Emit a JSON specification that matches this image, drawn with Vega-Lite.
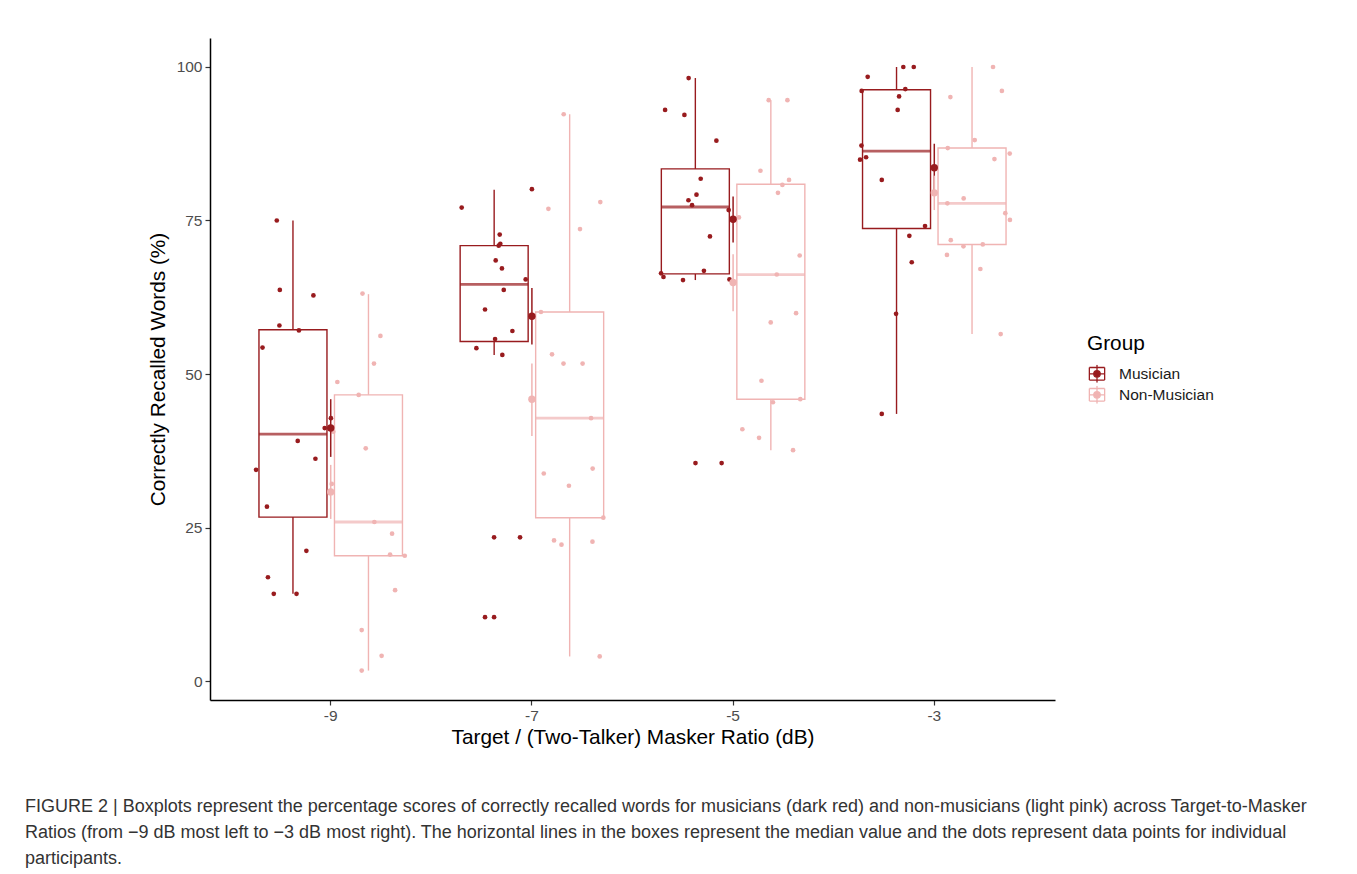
{
  "$schema": "https://vega.github.io/schema/vega-lite/v6.json",
  "width": 845,
  "height": 662,
  "autosize": {"type": "none"},
  "padding": {"left": 210, "top": 38, "right": 302, "bottom": 174},
  "background": "white",
  "config": {
    "font": "Liberation Sans",
    "view": {"stroke": null},
    "axis": {
      "domainColor": "black",
      "domainWidth": 1.5,
      "tickColor": "#333333",
      "tickWidth": 1.2,
      "tickSize": 5,
      "labelColor": "#4D4D4D",
      "labelFontSize": 15.5,
      "labelFont": "Liberation Sans",
      "titleFont": "Liberation Sans",
      "titleFontSize": 20.8,
      "titleFontWeight": "normal",
      "titleColor": "black",
      "grid": false
    }
  },
  "title": {
    "text": [
      "FIGURE 2 | Boxplots represent the percentage scores of correctly recalled words for musicians (dark red) and non-musicians (light pink) across Target-to-Masker",
      "Ratios (from −9 dB most left to −3 dB most right). The horizontal lines in the boxes represent the median value and the dots represent data points for individual",
      "participants."
    ],
    "orient": "bottom",
    "anchor": "start",
    "frame": "group",
    "dx": -185,
    "offset": 51,
    "font": "Liberation Sans",
    "fontSize": 18,
    "fontWeight": "normal",
    "color": "#333333",
    "lineHeight": 26
  },
  "datasets": {
    "points": [
      {"tmr": -9, "group": "Musician", "score": 75.0, "jit": -0.268},
      {"tmr": -9, "group": "Musician", "score": 63.7, "jit": -0.253},
      {"tmr": -9, "group": "Musician", "score": 62.8, "jit": -0.086},
      {"tmr": -9, "group": "Musician", "score": 57.9, "jit": -0.255},
      {"tmr": -9, "group": "Musician", "score": 57.1, "jit": -0.158},
      {"tmr": -9, "group": "Musician", "score": 54.3, "jit": -0.339},
      {"tmr": -9, "group": "Musician", "score": 42.8, "jit": 0.001},
      {"tmr": -9, "group": "Musician", "score": 41.2, "jit": -0.030},
      {"tmr": -9, "group": "Musician", "score": 39.1, "jit": -0.164},
      {"tmr": -9, "group": "Musician", "score": 36.2, "jit": -0.076},
      {"tmr": -9, "group": "Musician", "score": 34.4, "jit": -0.371},
      {"tmr": -9, "group": "Musician", "score": 28.4, "jit": -0.317},
      {"tmr": -9, "group": "Musician", "score": 21.2, "jit": -0.121},
      {"tmr": -9, "group": "Musician", "score": 16.9, "jit": -0.312},
      {"tmr": -9, "group": "Musician", "score": 14.2, "jit": -0.283},
      {"tmr": -9, "group": "Musician", "score": 14.2, "jit": -0.170},
      {"tmr": -7, "group": "Musician", "score": 80.1, "jit": 0.000},
      {"tmr": -7, "group": "Musician", "score": 77.1, "jit": -0.349},
      {"tmr": -7, "group": "Musician", "score": 72.7, "jit": -0.160},
      {"tmr": -7, "group": "Musician", "score": 71.2, "jit": -0.157},
      {"tmr": -7, "group": "Musician", "score": 70.9, "jit": -0.165},
      {"tmr": -7, "group": "Musician", "score": 68.5, "jit": -0.180},
      {"tmr": -7, "group": "Musician", "score": 67.2, "jit": -0.149},
      {"tmr": -7, "group": "Musician", "score": 65.4, "jit": -0.031},
      {"tmr": -7, "group": "Musician", "score": 63.7, "jit": -0.140},
      {"tmr": -7, "group": "Musician", "score": 60.5, "jit": -0.233},
      {"tmr": -7, "group": "Musician", "score": 57.0, "jit": -0.097},
      {"tmr": -7, "group": "Musician", "score": 55.7, "jit": -0.183},
      {"tmr": -7, "group": "Musician", "score": 54.2, "jit": -0.276},
      {"tmr": -7, "group": "Musician", "score": 53.1, "jit": -0.147},
      {"tmr": -7, "group": "Musician", "score": 23.4, "jit": -0.188},
      {"tmr": -7, "group": "Musician", "score": 23.4, "jit": -0.059},
      {"tmr": -7, "group": "Musician", "score": 10.4, "jit": -0.233},
      {"tmr": -7, "group": "Musician", "score": 10.4, "jit": -0.188},
      {"tmr": -5, "group": "Musician", "score": 98.2, "jit": -0.221},
      {"tmr": -5, "group": "Musician", "score": 93.0, "jit": -0.338},
      {"tmr": -5, "group": "Musician", "score": 92.2, "jit": -0.242},
      {"tmr": -5, "group": "Musician", "score": 88.0, "jit": -0.083},
      {"tmr": -5, "group": "Musician", "score": 81.8, "jit": -0.161},
      {"tmr": -5, "group": "Musician", "score": 79.2, "jit": -0.182},
      {"tmr": -5, "group": "Musician", "score": 78.3, "jit": -0.222},
      {"tmr": -5, "group": "Musician", "score": 77.5, "jit": -0.204},
      {"tmr": -5, "group": "Musician", "score": 76.7, "jit": -0.022},
      {"tmr": -5, "group": "Musician", "score": 72.4, "jit": -0.115},
      {"tmr": -5, "group": "Musician", "score": 66.4, "jit": -0.358},
      {"tmr": -5, "group": "Musician", "score": 65.8, "jit": -0.346},
      {"tmr": -5, "group": "Musician", "score": 66.8, "jit": -0.145},
      {"tmr": -5, "group": "Musician", "score": 65.3, "jit": -0.249},
      {"tmr": -5, "group": "Musician", "score": 65.4, "jit": -0.018},
      {"tmr": -5, "group": "Musician", "score": 35.5, "jit": -0.187},
      {"tmr": -5, "group": "Musician", "score": 35.5, "jit": -0.057},
      {"tmr": -3, "group": "Musician", "score": 100.0, "jit": -0.154},
      {"tmr": -3, "group": "Musician", "score": 100.0, "jit": -0.102},
      {"tmr": -3, "group": "Musician", "score": 98.4, "jit": -0.331},
      {"tmr": -3, "group": "Musician", "score": 96.1, "jit": -0.361},
      {"tmr": -3, "group": "Musician", "score": 96.4, "jit": -0.144},
      {"tmr": -3, "group": "Musician", "score": 95.2, "jit": -0.175},
      {"tmr": -3, "group": "Musician", "score": 93.0, "jit": -0.182},
      {"tmr": -3, "group": "Musician", "score": 87.2, "jit": -0.362},
      {"tmr": -3, "group": "Musician", "score": 85.3, "jit": -0.339},
      {"tmr": -3, "group": "Musician", "score": 84.9, "jit": -0.369},
      {"tmr": -3, "group": "Musician", "score": 81.6, "jit": -0.261},
      {"tmr": -3, "group": "Musician", "score": 74.1, "jit": -0.046},
      {"tmr": -3, "group": "Musician", "score": 72.5, "jit": -0.124},
      {"tmr": -3, "group": "Musician", "score": 68.2, "jit": -0.112},
      {"tmr": -3, "group": "Musician", "score": 59.8, "jit": -0.190},
      {"tmr": -3, "group": "Musician", "score": 43.5, "jit": -0.261},
      {"tmr": -9, "group": "Non-Musician", "score": 63.1, "jit": 0.158},
      {"tmr": -9, "group": "Non-Musician", "score": 56.2, "jit": 0.247},
      {"tmr": -9, "group": "Non-Musician", "score": 51.7, "jit": 0.215},
      {"tmr": -9, "group": "Non-Musician", "score": 48.7, "jit": 0.033},
      {"tmr": -9, "group": "Non-Musician", "score": 46.6, "jit": 0.139},
      {"tmr": -9, "group": "Non-Musician", "score": 40.6, "jit": 0.013},
      {"tmr": -9, "group": "Non-Musician", "score": 37.9, "jit": 0.174},
      {"tmr": -9, "group": "Non-Musician", "score": 32.1, "jit": 0.005},
      {"tmr": -9, "group": "Non-Musician", "score": 25.9, "jit": 0.217},
      {"tmr": -9, "group": "Non-Musician", "score": 24.0, "jit": 0.305},
      {"tmr": -9, "group": "Non-Musician", "score": 20.6, "jit": 0.295},
      {"tmr": -9, "group": "Non-Musician", "score": 20.4, "jit": 0.368},
      {"tmr": -9, "group": "Non-Musician", "score": 14.8, "jit": 0.320},
      {"tmr": -9, "group": "Non-Musician", "score": 8.3, "jit": 0.154},
      {"tmr": -9, "group": "Non-Musician", "score": 4.1, "jit": 0.253},
      {"tmr": -9, "group": "Non-Musician", "score": 1.7, "jit": 0.154},
      {"tmr": -7, "group": "Non-Musician", "score": 92.3, "jit": 0.158},
      {"tmr": -7, "group": "Non-Musician", "score": 78.0, "jit": 0.340},
      {"tmr": -7, "group": "Non-Musician", "score": 76.9, "jit": 0.082},
      {"tmr": -7, "group": "Non-Musician", "score": 73.6, "jit": 0.239},
      {"tmr": -7, "group": "Non-Musician", "score": 60.1, "jit": 0.045},
      {"tmr": -7, "group": "Non-Musician", "score": 53.2, "jit": 0.100},
      {"tmr": -7, "group": "Non-Musician", "score": 51.7, "jit": 0.157},
      {"tmr": -7, "group": "Non-Musician", "score": 51.7, "jit": 0.252},
      {"tmr": -7, "group": "Non-Musician", "score": 42.8, "jit": 0.294},
      {"tmr": -7, "group": "Non-Musician", "score": 33.8, "jit": 0.059},
      {"tmr": -7, "group": "Non-Musician", "score": 34.6, "jit": 0.302},
      {"tmr": -7, "group": "Non-Musician", "score": 31.8, "jit": 0.184},
      {"tmr": -7, "group": "Non-Musician", "score": 26.6, "jit": 0.355},
      {"tmr": -7, "group": "Non-Musician", "score": 22.9, "jit": 0.110},
      {"tmr": -7, "group": "Non-Musician", "score": 22.2, "jit": 0.147},
      {"tmr": -7, "group": "Non-Musician", "score": 22.7, "jit": 0.301},
      {"tmr": -7, "group": "Non-Musician", "score": 4.0, "jit": 0.337},
      {"tmr": -5, "group": "Non-Musician", "score": 94.6, "jit": 0.177},
      {"tmr": -5, "group": "Non-Musician", "score": 94.6, "jit": 0.270},
      {"tmr": -5, "group": "Non-Musician", "score": 83.1, "jit": 0.136},
      {"tmr": -5, "group": "Non-Musician", "score": 81.6, "jit": 0.278},
      {"tmr": -5, "group": "Non-Musician", "score": 80.8, "jit": 0.245},
      {"tmr": -5, "group": "Non-Musician", "score": 79.5, "jit": 0.223},
      {"tmr": -5, "group": "Non-Musician", "score": 75.5, "jit": 0.029},
      {"tmr": -5, "group": "Non-Musician", "score": 69.3, "jit": 0.331},
      {"tmr": -5, "group": "Non-Musician", "score": 66.2, "jit": 0.217},
      {"tmr": -5, "group": "Non-Musician", "score": 59.9, "jit": 0.313},
      {"tmr": -5, "group": "Non-Musician", "score": 58.4, "jit": 0.187},
      {"tmr": -5, "group": "Non-Musician", "score": 48.9, "jit": 0.141},
      {"tmr": -5, "group": "Non-Musician", "score": 45.9, "jit": 0.334},
      {"tmr": -5, "group": "Non-Musician", "score": 45.4, "jit": 0.198},
      {"tmr": -5, "group": "Non-Musician", "score": 41.0, "jit": 0.046},
      {"tmr": -5, "group": "Non-Musician", "score": 39.6, "jit": 0.129},
      {"tmr": -5, "group": "Non-Musician", "score": 37.6, "jit": 0.298},
      {"tmr": -3, "group": "Non-Musician", "score": 100.0, "jit": 0.292},
      {"tmr": -3, "group": "Non-Musician", "score": 96.1, "jit": 0.336},
      {"tmr": -3, "group": "Non-Musician", "score": 95.1, "jit": 0.080},
      {"tmr": -3, "group": "Non-Musician", "score": 88.1, "jit": 0.201},
      {"tmr": -3, "group": "Non-Musician", "score": 86.8, "jit": 0.067},
      {"tmr": -3, "group": "Non-Musician", "score": 85.9, "jit": 0.375},
      {"tmr": -3, "group": "Non-Musician", "score": 85.0, "jit": 0.299},
      {"tmr": -3, "group": "Non-Musician", "score": 78.6, "jit": 0.146},
      {"tmr": -3, "group": "Non-Musician", "score": 77.8, "jit": 0.065},
      {"tmr": -3, "group": "Non-Musician", "score": 76.2, "jit": 0.353},
      {"tmr": -3, "group": "Non-Musician", "score": 75.1, "jit": 0.376},
      {"tmr": -3, "group": "Non-Musician", "score": 71.8, "jit": 0.082},
      {"tmr": -3, "group": "Non-Musician", "score": 70.8, "jit": 0.145},
      {"tmr": -3, "group": "Non-Musician", "score": 71.1, "jit": 0.241},
      {"tmr": -3, "group": "Non-Musician", "score": 69.4, "jit": 0.063},
      {"tmr": -3, "group": "Non-Musician", "score": 67.1, "jit": 0.229},
      {"tmr": -3, "group": "Non-Musician", "score": 56.5, "jit": 0.330}
    ],
    "boxes": [
      {"tmr": -9, "group": "Musician", "lower": 14.2, "q1": 26.7, "median": 40.2, "q3": 57.2, "upper": 75.0},
      {"tmr": -7, "group": "Musician", "lower": 53.1, "q1": 55.3, "median": 64.6, "q3": 70.9, "upper": 80.0},
      {"tmr": -5, "group": "Musician", "lower": 65.3, "q1": 66.3, "median": 77.2, "q3": 83.4, "upper": 98.2},
      {"tmr": -3, "group": "Musician", "lower": 43.5, "q1": 73.7, "median": 86.3, "q3": 96.3, "upper": 100.0},
      {"tmr": -9, "group": "Non-Musician", "lower": 1.7, "q1": 20.4, "median": 25.9, "q3": 46.6, "upper": 63.0},
      {"tmr": -7, "group": "Non-Musician", "lower": 4.0, "q1": 26.6, "median": 42.8, "q3": 60.1, "upper": 92.3},
      {"tmr": -5, "group": "Non-Musician", "lower": 37.6, "q1": 45.9, "median": 66.2, "q3": 80.9, "upper": 94.6},
      {"tmr": -3, "group": "Non-Musician", "lower": 56.5, "q1": 71.1, "median": 77.8, "q3": 86.8, "upper": 100.0}
    ],
    "means": [
      {"tmr": -9, "group": "Musician", "mean": 41.2, "lo": 36.5, "hi": 45.9},
      {"tmr": -7, "group": "Musician", "mean": 59.4, "lo": 54.8, "hi": 64.0},
      {"tmr": -5, "group": "Musician", "mean": 75.2, "lo": 71.4, "hi": 78.9},
      {"tmr": -3, "group": "Musician", "mean": 83.6, "lo": 79.6, "hi": 87.5},
      {"tmr": -9, "group": "Non-Musician", "mean": 30.8, "lo": 26.4, "hi": 35.2},
      {"tmr": -7, "group": "Non-Musician", "mean": 45.9, "lo": 39.9, "hi": 51.7},
      {"tmr": -5, "group": "Non-Musician", "mean": 64.9, "lo": 60.2, "hi": 69.5},
      {"tmr": -3, "group": "Non-Musician", "mean": 79.5, "lo": 76.7, "hi": 82.3}
    ]
  },
  "encoding": {
    "x": {
      "field": "tmr",
      "type": "ordinal",
      "scale": {"type": "band", "paddingInner": 0, "paddingOuter": 0.1},
      "axis": {"title": "Target / (Two-Talker) Masker Ratio (dB)", "labelAngle": 0, "labelPadding": 3, "titlePadding": 4}
    },
    "color": {
      "field": "group",
      "type": "nominal",
      "scale": {"domain": ["Musician", "Non-Musician"], "range": ["#981B1E", "#F0B4B3"]},
      "legend": {
        "title": "Group",
        "orient": "none",
        "legendX": 877,
        "legendY": 296,
        "padding": 0,
        "titleFontSize": 20.8,
        "titleFontWeight": "normal",
        "titleColor": "black",
        "titlePadding": 10,
        "labelFontSize": 15.5,
        "labelColor": "#1A1A1A",
        "labelOffset": 12,
        "rowPadding": 3,
        "clipHeight": 18,
        "symbolSize": 324,
        "symbolStrokeWidth": 1.3,
        "symbolType": "M-0.85,-0.7H0.85M0.85,-0.7V0.7M0.85,0.7H-0.85M-0.85,0.7V-0.7M0,-1V1M-0.85,0H0.85M0.36,0A0.36,0.36,0,1,1,-0.36,0A0.36,0.36,0,1,1,0.36,0Z",
        "encode": {
          "symbols": {
            "update": {
              "fill": {"scale": "color", "field": "value"},
              "stroke": {"scale": "color", "field": "value"},
              "opacity": {"value": 1}
            }
          }
        }
      }
    }
  },
  "resolve": {"scale": {"xOffset": "independent"}},
  "layer": [
    {
      "data": {"name": "boxes"},
      "mark": {"type": "rule", "strokeWidth": 1.4},
      "encoding": {
        "xOffset": {"field": "group", "type": "nominal", "scale": {"paddingInner": 0.0993, "paddingOuter": 0.382}},
        "y": {"field": "lower", "type": "quantitative", "scale": {"domain": [-3.09, 104.72], "nice": false, "zero": false},
          "axis": {"title": "Correctly Recalled Words (%)", "values": [0, 25, 50, 75, 100], "labelPadding": 3, "titlePadding": 8}},
        "y2": {"field": "q1"}
      }
    },
    {
      "data": {"name": "boxes"},
      "mark": {"type": "rule", "strokeWidth": 1.4},
      "encoding": {
        "xOffset": {"field": "group", "type": "nominal", "scale": {"paddingInner": 0.0993, "paddingOuter": 0.382}},
        "y": {"field": "q3", "type": "quantitative"},
        "y2": {"field": "upper"}
      }
    },
    {
      "data": {"name": "boxes"},
      "mark": {"type": "bar", "filled": false, "fill": "white", "strokeWidth": 1.4},
      "encoding": {
        "xOffset": {"field": "group", "type": "nominal", "scale": {"paddingInner": 0.0993, "paddingOuter": 0.382}},
        "y": {"field": "q1", "type": "quantitative"},
        "y2": {"field": "q3"}
      }
    },
    {
      "data": {"name": "boxes"},
      "mark": {"type": "tick", "size": 68, "thickness": 2.8, "orient": "horizontal"},
      "encoding": {
        "xOffset": {"field": "group", "type": "nominal", "scale": {"paddingInner": 0.0993, "paddingOuter": 0.382}},
        "y": {"field": "median", "type": "quantitative"}
      }
    },
    {
      "data": {"name": "points"},
      "mark": {"type": "point", "filled": true, "size": 22, "opacity": 1},
      "encoding": {
        "xOffset": {"field": "jit", "type": "quantitative", "scale": {"domain": [-0.5, 0.5], "nice": false, "zero": false}},
        "y": {"field": "score", "type": "quantitative"}
      }
    },
    {
      "data": {"name": "means"},
      "mark": {"type": "rule", "strokeWidth": 1.5},
      "encoding": {
        "y": {"field": "lo", "type": "quantitative"},
        "y2": {"field": "hi"}
      }
    },
    {
      "data": {"name": "means"},
      "mark": {"type": "point", "filled": true, "size": 55, "opacity": 1},
      "encoding": {
        "y": {"field": "mean", "type": "quantitative"}
      }
    }
  ]
}
